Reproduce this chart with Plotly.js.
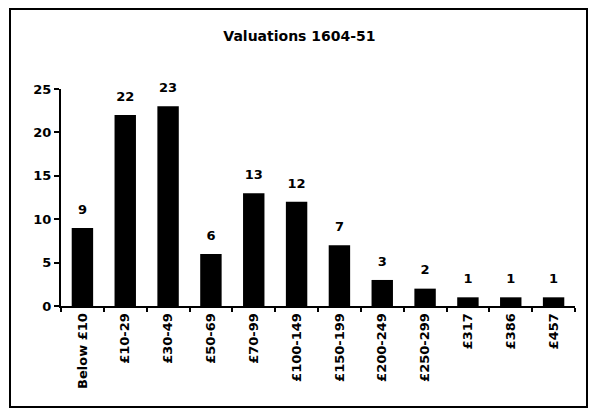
<!DOCTYPE html>
<html>
<head>
<meta charset="utf-8">
<script src="https://cdn.plot.ly/plotly-3.0.1.min.js"></script>
<style>
html,body{margin:0;padding:0;background:#fff;}
#chart{width:593px;height:411px;}
</style>
</head>
<body>
<div id="chart"></div>
<script>
const categories = ["Below £10","£10-29","£30-49","£50-69","£70-99","£100-149","£150-199","£200-249","£250-299","£317","£386","£457"];
const counts = [9,22,23,6,13,12,7,3,2,1,1,1];
const yTicks = [0,5,10,15,20,25];

const W = 593, H = 411;
const m = {l:61, r:18, t:89, b:105};
const pw = W - m.l - m.r, ph = H - m.t - m.b;
function px(x){ return (x - m.l)/pw; }
function py(y){ return (H - m.b - y)/ph; }

const fam = "DejaVu Sans, Liberation Sans, Arial, sans-serif";
const font = {family:fam, color:"#000", size:13, weight:"bold"};

Plotly.newPlot("chart", [{
  type:"bar",
  x:categories,
  y:counts,
  marker:{color:"#000", line:{width:0}},
  hoverinfo:"none"
},{
  type:"scatter",
  mode:"markers+text",
  x:categories,
  y:counts,
  text:counts.map(String),
  textposition:"top center",
  textfont:{family:fam, size:13, color:"#000", weight:"bold"},
  marker:{size:16, color:"rgba(0,0,0,0)"},
  cliponaxis:false,
  hoverinfo:"none"
}], {
  width:W, height:H,
  margin:m,
  paper_bgcolor:"#fff", plot_bgcolor:"#fff",
  showlegend:false,
  bargap:0.5,
  title:{text:"Valuations 1604-51", font:{family:fam, size:14, color:"#000", weight:"bold"}, x:0.505, xanchor:"center", y:1-36/H, yanchor:"middle"},
  xaxis:{
    type:"category",
    range:[-0.5, categories.length - 0.5],
    showline:true, linecolor:"#000", linewidth:2,
    ticks:"outside", tickson:"boundaries", ticklen:4, tickwidth:2, tickcolor:"#000",
    tickangle:-90,
    tickfont:font,
    showgrid:false, zeroline:false
  },
  yaxis:{
    range:[0,25],
    tickvals:yTicks,
    showline:true, linecolor:"#000", linewidth:2,
    ticks:"outside", ticklen:5, tickwidth:2, tickcolor:"#000",
    tickfont:font,
    showgrid:false, zeroline:false
  },
  shapes:[{
    type:"rect", xref:"paper", yref:"paper",
    x0:px(10), x1:px(587), y0:py(407), y1:py(9),
    line:{color:"#000", width:2}, fillcolor:"rgba(0,0,0,0)", layer:"below"
  }]
}, {staticPlot:true});
</script>
</body>
</html>
